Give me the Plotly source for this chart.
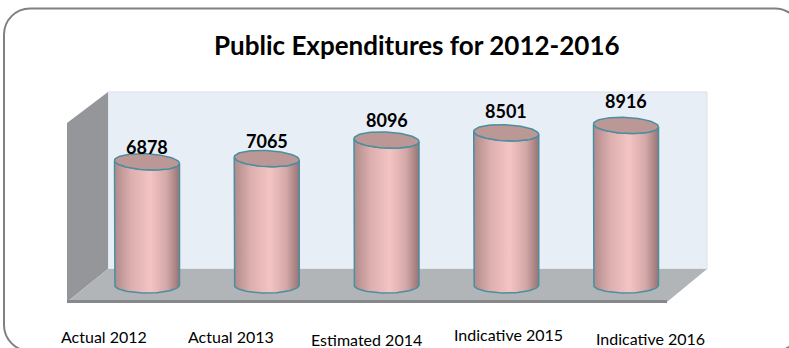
import numpy as np
import plotly.graph_objects as go

# Chart data
categories = ["Actual 2012", "Actual 2013", "Estimated 2014", "Indicative 2015", "Indicative 2016"]
values = [6878, 7065, 8096, 8501, 8916]
chart_title = "Public Expenditures for 2012-2016"

W, H = 789, 348

# Linear scales: category index -> pixel x, value -> pixel y
X0_PX, X_STEP = 147.0, 119.75      # centre of first cylinder, spacing
Y0_PX, Y_SCALE = 285.0, 0.0179     # baseline pixel, pixels per unit

x_range = [(0 - X0_PX) / X_STEP, (W - X0_PX) / X_STEP]
y_range = [(Y0_PX - H) / Y_SCALE, (Y0_PX - 0) / Y_SCALE]

RX = 32.5 / X_STEP      # cylinder radius (x units)
RY = 8.0 / Y_SCALE      # ellipse half-height (value units)
TILT = 1.5 / Y_SCALE    # slight perspective tilt of the caps

FONT = "Lato, Open Sans, sans-serif"

def px(x):
    return x / W

def py(y):
    return 1 - y / H

def poly_path(points):
    return "M " + " L ".join(f"{px(a):.5f},{py(b):.5f}" for a, b in points) + " Z"

fig = go.Figure()

# ---- 3D frame: back wall, side wall, floor ----
shapes = []
back_wall = [(108, 92), (707, 92), (707, 269), (108, 269)]
side_wall = [(67, 123), (108, 92), (108, 269), (67, 302)]
floor = [(67, 302), (108, 269), (707, 269), (667, 302)]
floor_edge = [(67, 300), (667, 300), (667, 303), (67, 303)]
shapes.append(dict(type="path", path=poly_path(back_wall), xref="paper", yref="paper",
                   fillcolor="#e7eef6", line=dict(color="#d9e0e8", width=1), layer="below"))
shapes.append(dict(type="path", path=poly_path(side_wall), xref="paper", yref="paper",
                   fillcolor="#949699", line=dict(width=0), layer="below"))
shapes.append(dict(type="path", path=poly_path(floor), xref="paper", yref="paper",
                   fillcolor="#b2b5b8", line=dict(width=0), layer="below"))
shapes.append(dict(type="path", path=poly_path(floor_edge), xref="paper", yref="paper",
                   fillcolor="#86888b", line=dict(width=0), layer="below"))

# ---- rounded outer border ----
bx0, by0, bx1, by1, r = 4, 8.5, 801, 351, 26
k = 0.45
border = (
    f"M {px(bx0 + r)},{py(by0)} L {px(bx1 - r)},{py(by0)} "
    f"C {px(bx1 - r * k)},{py(by0)} {px(bx1)},{py(by0 + r * k)} {px(bx1)},{py(by0 + r)} "
    f"L {px(bx1)},{py(by1 - r)} "
    f"C {px(bx1)},{py(by1 - r * k)} {px(bx1 - r * k)},{py(by1)} {px(bx1 - r)},{py(by1)} "
    f"L {px(bx0 + r)},{py(by1)} "
    f"C {px(bx0 + r * k)},{py(by1)} {px(bx0)},{py(by1 - r * k)} {px(bx0)},{py(by1 - r)} "
    f"L {px(bx0)},{py(by0 + r)} "
    f"C {px(bx0)},{py(by0 + r * k)} {px(bx0 + r * k)},{py(by0)} {px(bx0 + r)},{py(by0)} Z"
)
shapes.append(dict(type="path", path=border, xref="paper", yref="paper",
                   line=dict(color="#808080", width=2), fillcolor="rgba(0,0,0,0)", layer="above"))

# ---- cylinders ----
EDGE = "#4a8ea0"
t = np.linspace(0, np.pi, 40)
for i, v in enumerate(values):
    xl, xr = i - RX, i + RX
    # body: left edge down, lower half of base ellipse, right edge up, lower half of cap
    base_x = i - RX * np.cos(t)
    base_y = -RY * np.sin(t)
    cap_x = i + RX * np.cos(t)
    cap_y = v - RY * np.sin(t) + TILT * (-(cap_x - i) / RX)
    bx = np.concatenate([[xl], base_x, [xr], cap_x])
    byy = np.concatenate([[v + TILT], base_y, [v - TILT], cap_y])
    fig.add_trace(go.Scatter(
        x=bx, y=byy, mode="lines", fill="toself",
        fillgradient=dict(type="horizontal",
                          colorscale=[[0, "#b08a8a"], [0.25, "#dcaeae"], [0.55, "#f4c4c4"],
                                      [0.8, "#d4a8a8"], [1, "#987474"]]),
        line=dict(color=EDGE, width=1.5), hoverinfo="skip", showlegend=False))
    # top cap ellipse
    tt = np.linspace(0, 2 * np.pi, 80)
    ex = i + RX * np.cos(tt)
    ey = v + RY * np.sin(tt) - TILT * np.cos(tt)
    fig.add_trace(go.Scatter(
        x=ex, y=ey, mode="lines", fill="toself", fillcolor="#bb9796",
        line=dict(color=EDGE, width=1.5), hoverinfo="skip", showlegend=False))

# ---- value labels ----
for i, v in enumerate(values):
    fig.add_annotation(x=i, y=v, text=f"<b>{v}</b>", showarrow=False,
                       yanchor="middle", yshift=15 + 2.3 * i,
                       font=dict(family=FONT, size=18, color="#000000"))

# ---- category labels along the front ----
label_dx = [-43, -36, -20, 2, 24]
label_y = [336, 336, 339.5, 334, 338.5]
for i, c in enumerate(categories):
    fig.add_annotation(x=i, y=py(label_y[i]), yref="paper", text=c, showarrow=False,
                       xshift=label_dx[i], yanchor="middle", borderpad=0,
                       font=dict(family=FONT, size=16, color="#000000"))

# ---- title ----
fig.add_annotation(x=px(417), y=py(45), xref="paper", yref="paper",
                   text=f"<b>{chart_title}</b>", showarrow=False, yanchor="middle",
                   font=dict(family=FONT, size=26, color="#000000"))

fig.update_layout(
    width=W, height=H, margin=dict(l=0, r=0, t=0, b=0),
    paper_bgcolor="white", plot_bgcolor="rgba(0,0,0,0)",
    xaxis=dict(range=x_range, visible=False, fixedrange=True),
    yaxis=dict(range=y_range, visible=False, fixedrange=True),
    shapes=shapes, showlegend=False,
)

fig.write_html("out.html")
